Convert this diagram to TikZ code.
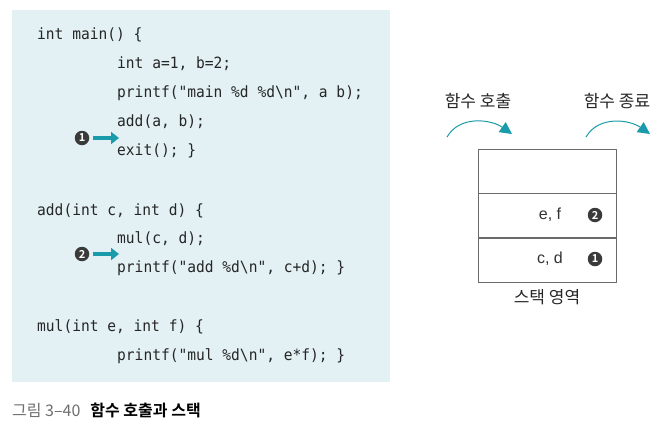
\documentclass[tikz,border=0pt]{standalone}
\usepackage{fontspec}
\setmainfont{Noto Sans CJK KR}[BoldFont={Noto Sans CJK KR Bold}]
\setmonofont{DejaVu Sans Mono}[FakeStretch=0.94]
\newfontfamily\cellfont{Liberation Sans}
\usetikzlibrary{positioning,arrows.meta}
\definecolor{codebg}{HTML}{E3F1F5}
\definecolor{callteal}{HTML}{1A9BAB}
\definecolor{bulletgray}{HTML}{3A3A3A}
\definecolor{capgray}{HTML}{6E6E6E}
\definecolor{cellline}{HTML}{6A6A6A}
\tikzset{
  codeline/.style={anchor=base west,inner sep=0pt,font=\ttfamily\fontsize{15.5}{15.5}\selectfont,text=black!85},
  bullet/.style={circle,fill=bulletgray,text=white,inner sep=0pt,minimum size=14.5pt,font=\bfseries\fontsize{11}{11}\selectfont},
  retarrow/.style={callteal,line width=4.5pt,-{Triangle[length=8pt,width=12pt]}},
  flowarrow/.style={callteal,line width=1pt,-{Triangle[length=12pt,width=12pt]}},
  stackcell/.style={draw=cellline,line width=0.9pt,minimum width=138pt,minimum height=44pt,inner sep=0pt},
  celltext/.style={font=\cellfont\fontsize{16}{16}\selectfont,text=black!80},
  label/.style={font=\fontsize{17}{17}\selectfont,text=black!85}
}
\begin{document}
\begin{tikzpicture}[x=1pt,y=-1pt]
\useasboundingbox (0,0) rectangle (658,428);
% code panel
\fill[codebg] (12,10) rectangle (390,382);
\node[codeline] (main) at (37,40) {int main() \{};
\node[codeline] (m1) at (117,68) {int a=1, b=2;};
\node[codeline] (m2) at (117,97) {printf("main \%d \%d\textbackslash n", a b);};
\node[codeline] (m3) at (117,126) {add(a, b);};
\node[codeline] (m4) at (117,155) {exit(); \}};
\node[codeline] (add) at (37,215) {add(int c, int d) \{};
\node[codeline] (a1) at (117,243) {mul(c, d);};
\node[codeline] (a2) at (117,272) {printf("add \%d\textbackslash n", c+d); \}};
\node[codeline] (mul) at (37,331) {mul(int e, int f) \{};
\node[codeline] (u1) at (117,360) {printf("mul \%d\textbackslash n", e*f); \}};
% return points
\node[bullet] (r1) at (82,138) {1};
\coordinate (r1e) at (119,138);
\draw[retarrow] (r1) ++(11,0) -- (r1e);
\node[bullet] (r2) at (82,254) {2};
\coordinate (r2e) at (119,254);
\draw[retarrow] (r2) ++(11,0) -- (r2e);
% stack
\node[stackcell] (top) at (547,171) {};
\node[stackcell,below=0pt of top] (mid) {};
\node[stackcell,below=0pt of mid] (bot) {};
\node[celltext] (ef) at (550,215) {e, f};
\node[bullet] (s2) at (595,215) {2};
\node[celltext] (cd) at (550,259) {c, d};
\node[bullet] (s1) at (595,259) {1};
\node[label,below=3pt of bot] (area) {스택 영역};
% call / return
\node[label] (call) at (478,101) {함수 호출};
\node[label] (ret) at (617,101) {함수 종료};
\coordinate (c1) at (447,137);
\coordinate (c2) at (512,134);
\coordinate (e1) at (586,137);
\coordinate (e2) at (650,134);
\draw[flowarrow] (c1) to[out=60,in=145] (c2);
\draw[flowarrow] (e1) to[out=60,in=145] (e2);
% caption
\node[anchor=west,inner sep=0pt,font=\fontsize{16}{16}\selectfont] (cap) at (12,410) {\textcolor{capgray}{그림 3–40}\hspace{10pt}\textbf{함수 호출과 스택}};
\end{tikzpicture}
\end{document}
